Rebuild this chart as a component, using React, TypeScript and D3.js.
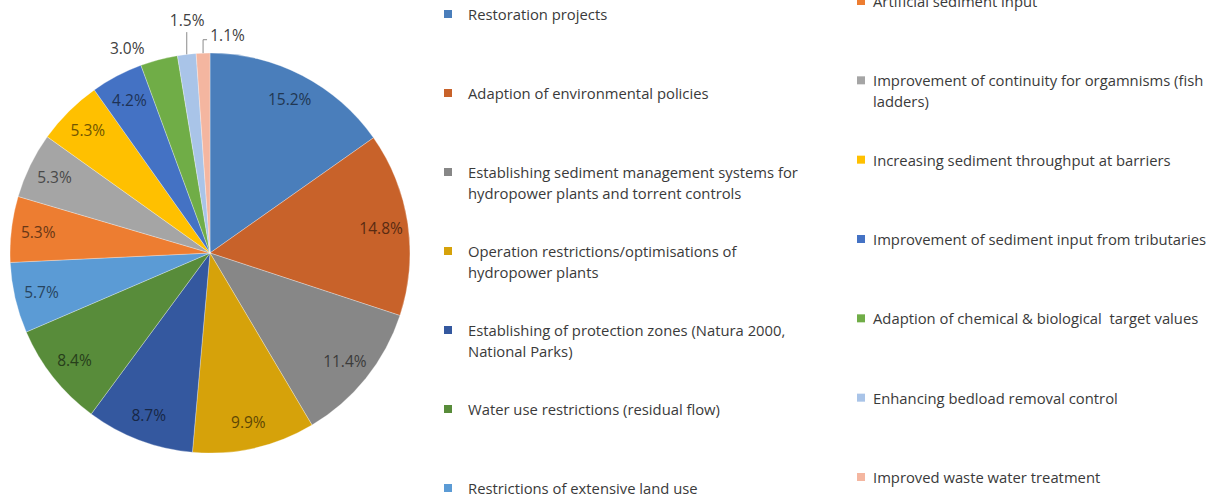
import React from "react";
import * as d3 from "d3";

const categories = [
  "Restoration projects",
  "Adaption of environmental policies",
  "Establishing sediment management systems for hydropower plants and torrent controls",
  "Operation restrictions/optimisations of hydropower plants",
  "Establishing of protection zones (Natura 2000, National Parks)",
  "Water use restrictions (residual flow)",
  "Restrictions of extensive land use",
  "Artificial sediment input",
  "Improvement of continuity for orgamnisms (fish ladders)",
  "Increasing sediment throughput at barriers",
  "Improvement of sediment input from tributaries",
  "Adaption of chemical & biological  target values",
  "Enhancing bedload removal control",
  "Improved waste water treatment",
];

const values = [15.2, 14.8, 11.4, 9.9, 8.7, 8.4, 5.7, 5.3, 5.3, 5.3, 4.2, 3.0, 1.5, 1.1];

const colors = [
  "#4A7EBB", "#C8622A", "#878787", "#D6A20A", "#34589F", "#588C3A", "#5B9BD5",
  "#ED7D31", "#A5A5A5", "#FFC000", "#4472C4", "#70AD47", "#A9C4E8", "#F4B6A0",
];

// legend text lines (wrapped as in the reference)
const legendLines = [
  ["Restoration projects"],
  ["Adaption of environmental policies"],
  ["Establishing sediment management systems for", "hydropower plants and torrent controls"],
  ["Operation restrictions/optimisations of", "hydropower plants"],
  ["Establishing of protection zones (Natura 2000,", "National Parks)"],
  ["Water use restrictions (residual flow)"],
  ["Restrictions of extensive land use"],
  ["Artificial sediment input"],
  ["Improvement of continuity for orgamnisms (fish", "ladders)"],
  ["Increasing sediment throughput at barriers"],
  ["Improvement of sediment input from tributaries"],
  ["Adaption of chemical & biological  target values"],
  ["Enhancing bedload removal control"],
  ["Improved waste water treatment"],
];

const W = 1220;
const H = 497;
const cx = 210;
const cy = 253;
const R = 200;
const FONT = "'Open Sans', sans-serif";

// outside label placement (polar: degrees from top, radius)
const outsideLabels: Record<number, { a: number; r: number; leader?: "vertical" | "elbow" }> = {
  11: { a: -22, r: 221 },
  12: { a: -5.6, r: 234, leader: "vertical" },
  13: { a: 4.6, r: 219, leader: "elbow" },
};

export default function App() {
  const pie = d3.pie<number>().value((d) => d).sort(null);
  const arcs = pie(values);
  const arcGen = d3.arc<d3.PieArcDatum<number>>().innerRadius(0).outerRadius(R);
  const labelArc = d3.arc<d3.PieArcDatum<number>>().innerRadius(173).outerRadius(173);

  const polar = (deg: number, r: number) => {
    const t = (deg * Math.PI) / 180;
    return [r * Math.sin(t), -r * Math.cos(t)];
  };

  const col1Y = d3.scaleLinear().domain([0, 6]).range([14, 488]);
  const col2Y = d3.scaleLinear().domain([0, 6]).range([1, 477]);

  return (
    <svg
      width={W}
      height={H}
      style={{ position: "absolute", left: 0, top: 0, background: "#fff" }}
      fontFamily={FONT}
    >
      <g transform={`translate(${cx},${cy})`}>
        {arcs.map((a, i) => (
          <path key={i} d={arcGen(a) || ""} fill={colors[i]} stroke="#fff" strokeWidth={0.3} />
        ))}
        {arcs.map((a, i) => {
          const txt = `${values[i].toFixed(1)}%`;
          const o = outsideLabels[i];
          if (o) {
            const [x, y] = polar(o.a, o.r);
            const mid = (a.startAngle + a.endAngle) / 2;
            const ex = R * Math.sin(mid);
            const ey = -R * Math.cos(mid);
            let line: JSX.Element | null = null;
            if (o.leader === "vertical") {
              line = <line x1={ex} y1={ey} x2={ex} y2={y + 12} stroke="#8a8a8a" strokeWidth={1} />;
            } else if (o.leader === "elbow") {
              line = (
                <polyline
                  points={`${ex},${ey} ${ex},${y + 5} ${ex + 4},${y + 5}`}
                  fill="none"
                  stroke="#8a8a8a"
                  strokeWidth={1}
                />
              );
            }
            return (
              <g key={i}>
                {line}
                <text x={x} y={y} textAnchor="middle" dominantBaseline="central" fontSize={15.5} fill="#404040">
                  {txt}
                </text>
              </g>
            );
          }
          const [x, y] = labelArc.centroid(a);
          const c = d3.color(colors[i])!.darker(2.3).formatHex();
          return (
            <text key={i} x={x} y={y} textAnchor="middle" dominantBaseline="central" fontSize={15.5} fill={c}>
              {txt}
            </text>
          );
        })}
      </g>
      {legendLines.map((lines, i) => {
        const col = i < 7 ? 0 : 1;
        const row = i % 7;
        const y = col === 0 ? col1Y(row) : col2Y(row);
        const mx = col === 0 ? 444 : 857;
        const tx = col === 0 ? 468 : 873;
        return (
          <g key={i}>
            <rect x={mx} y={y - 4} width={8} height={8} fill={colors[i]} />
            {lines.map((l, j) => (
              <text
                key={j}
                x={tx}
                y={y + j * 21}
                dominantBaseline="central"
                fontSize={14.8}
                fill="#3a3a3a"
                style={{ whiteSpace: "pre" }}
              >
                {l}
              </text>
            ))}
          </g>
        );
      })}
    </svg>
  );
}
